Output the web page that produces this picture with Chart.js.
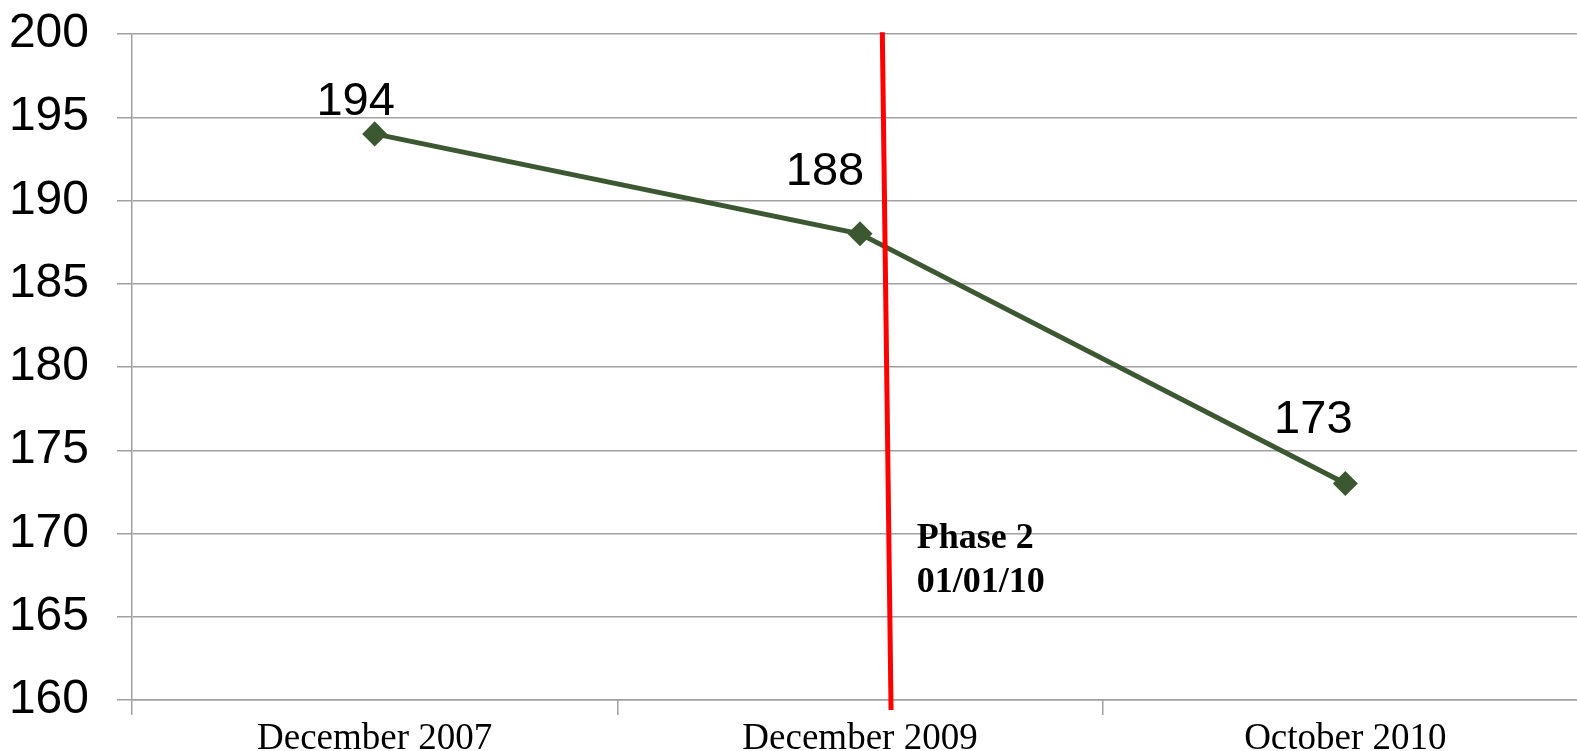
<!DOCTYPE html>
<html><head><meta charset="utf-8">
<script src="https://cdn.jsdelivr.net/npm/chart.js@4"></script>
<style>html,body{margin:0;padding:0;overflow:hidden;background:#fff}
#c{position:absolute;left:0;top:0}</style>
</head><body><canvas id="c" width="1577" height="751"></canvas>
<script>
const categories = ['December 2007', 'December 2009', 'October 2010'];
const values = [194, 188, 173];
const yTicks = [160, 165, 170, 175, 180, 185, 190, 195, 200];
const phaseText = ['Phase 2', '01/01/10'];
// phase marker in data units: fractional category index and value at its ends
const phaseLineX = [1.046, 1.064];
const phaseLineY = [200.1, 159.4];
const phaseTextX = 1.117;
const phaseTextY = [169.1, 166.5];

const lineColor = 'rgb(60,88,50)';
const gridColor = '#a0a0a0';
const labelOffsets = [[-19, -19], [-35, -49], [-32, -51]];
const plotOverflowRight = 25; // plot area continues past the right edge of the picture

const extras = {
  id: 'extras',
  afterLayout(chart) {
    const xs = chart.scales.x;
    chart.chartArea.right += plotOverflowRight;
    chart.chartArea.width += plotOverflowRight;
    xs.right += plotOverflowRight;
    xs.width += plotOverflowRight;
    xs.configure();
  },
  afterDatasetsDraw(chart) {
    const ctx = chart.ctx, xs = chart.scales.x, ys = chart.scales.y;
    const meta = chart.getDatasetMeta(0);
    ctx.save();
    ctx.font = '47px "Liberation Sans", Arial, sans-serif';
    ctx.fillStyle = '#000';
    ctx.textAlign = 'center';
    ctx.textBaseline = 'alphabetic';
    meta.data.forEach((pt, i) => {
      ctx.fillText(String(values[i]), pt.x + labelOffsets[i][0], pt.y + labelOffsets[i][1]);
    });
    // red phase line
    ctx.strokeStyle = '#ff0000';
    ctx.lineWidth = 5;
    ctx.beginPath();
    ctx.moveTo(xs.getPixelForValue(phaseLineX[0]), ys.getPixelForValue(phaseLineY[0]));
    ctx.lineTo(xs.getPixelForValue(phaseLineX[1]), ys.getPixelForValue(phaseLineY[1]));
    ctx.stroke();
    ctx.font = 'bold 36px "Liberation Serif", "Times New Roman", serif';
    ctx.textAlign = 'left';
    phaseText.forEach((t, i) => {
      ctx.fillText(t, xs.getPixelForValue(phaseTextX), ys.getPixelForValue(phaseTextY[i]));
    });
    ctx.restore();
  }
};

new Chart(document.getElementById('c'), {
  type: 'line',
  data: {
    labels: categories,
    datasets: [{
      data: values,
      borderColor: lineColor,
      backgroundColor: lineColor,
      borderWidth: 5,
      pointStyle: 'rectRot',
      pointRadius: 9,
      pointHoverRadius: 9,
      tension: 0,
      clip: false
    }]
  },
  options: {
    responsive: false,
    animation: false,
    events: [],
    layout: { padding: { top: 34, left: 0, right: 0, bottom: 0 } },
    plugins: { legend: { display: false }, tooltip: { enabled: false } },
    scales: {
      x: {
        offset: true,
        grid: { offset: true, drawOnChartArea: false, drawTicks: true, tickLength: 15, color: gridColor, lineWidth: 1.5 },
        border: { color: gridColor, width: 1.5 },
        ticks: { color: '#000', padding: 2, maxRotation: 0, font: { family: '"Liberation Serif", "Times New Roman", serif', size: 37 } },
        afterFit(s) { s.height = 51; s.paddingLeft = 0; s.paddingRight = 0; }
      },
      y: {
        min: 160, max: 200,
        afterBuildTicks(s) { s.ticks = yTicks.map(v => ({ value: v })); },
        grid: { color: gridColor, lineWidth: 1.5, tickLength: 15 },
        border: { color: gridColor, width: 1.5 },
        ticks: { color: '#000', padding: 28, font: { family: '"Liberation Sans", Arial, sans-serif', size: 48 } },
        afterFit(s) { s.width = 132; s.paddingTop = 0; s.paddingBottom = 0; }
      }
    }
  },
  plugins: [extras]
});
</script></body></html>
